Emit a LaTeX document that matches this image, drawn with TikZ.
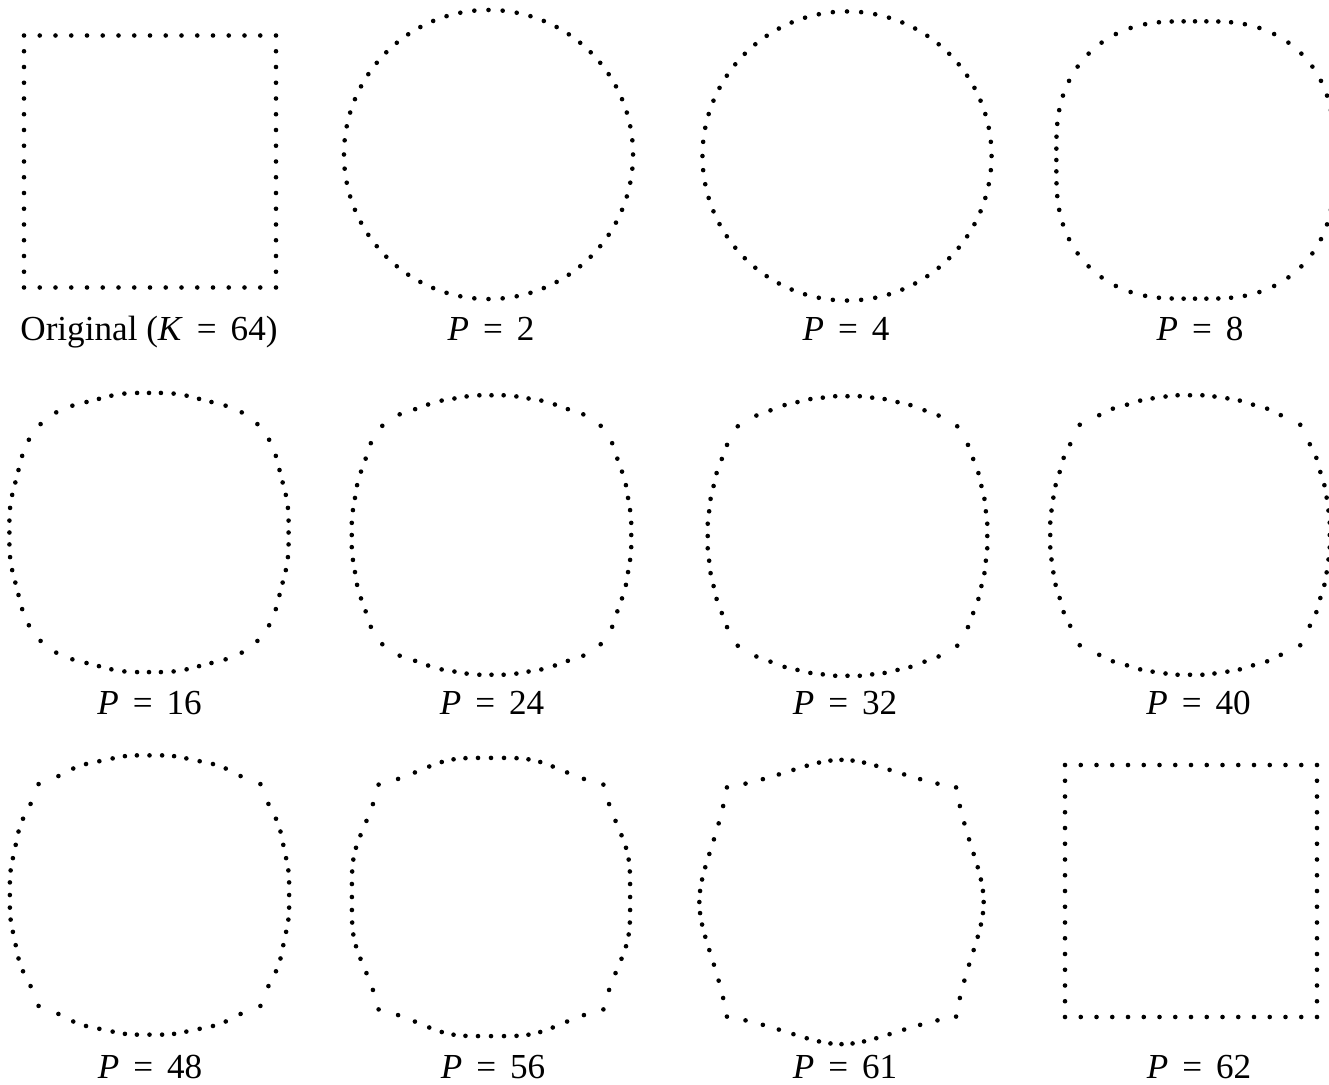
\documentclass[tikz,border=0pt]{standalone}
\usepackage{fontspec}
\setmainfont{Liberation Serif}
\tikzset{
	fddot/.style={fill=black},%
	lbl/.style={anchor=base, inner sep=0pt, font={\fontsize{20}{24}\selectfont}},%
}
\newcommand{\eqsp}{\hspace{0.28cm}}
\newcommand{\fdscale}{15.75}
\newcommand{\fdradius}{2.3}

% Fourier descriptors of the 64-point square (only u = 1 mod 4 are non-zero)
\newcommand{\fdcoeffs}{%
	\foreach \uu in {1,5,...,61}{%
		\xdef\accr{0}\xdef\acci{0}%
		\foreach \kk in {0,...,15}{%
			\pgfmathsetmacro\ang{5.625*mod(\uu*\kk,64)}%
			\pgfmathsetmacro\tmpr{\accr+(\kk-8)*cos(\ang)-8*sin(\ang)}%
			\pgfmathsetmacro\tmpi{\acci-(\kk-8)*sin(\ang)-8*cos(\ang)}%
			\xdef\accr{\tmpr}\xdef\acci{\tmpi}%
		}%
		\pgfmathsetmacro\tmpr{\accr/16}%
		\pgfmathsetmacro\tmpi{\acci/16}%
		\expandafter\xdef\csname fdr\uu\endcsname{\tmpr}%
		\expandafter\xdef\csname fdi\uu\endcsname{\tmpi}%
	}%
}

% reconstruction from the first P descriptors: centre x, centre y, P
\newcommand{\fdshape}[3]{%
	\foreach \kk in {0,...,63}{%
		\xdef\sumx{0}\xdef\sumy{0}%
		\foreach \uu in {1,5,...,61}{%
			\ifnum\uu<#3\relax
				\edef\fdre{\csname fdr\uu\endcsname}%
				\edef\fdim{\csname fdi\uu\endcsname}%
				\pgfmathsetmacro\ang{5.625*mod(\uu*\kk,64)}%
				\pgfmathsetmacro\tmpx{\sumx+(\fdre)*cos(\ang)-(\fdim)*sin(\ang)}%
				\pgfmathsetmacro\tmpy{\sumy+(\fdre)*sin(\ang)+(\fdim)*cos(\ang)}%
				\xdef\sumx{\tmpx}\xdef\sumy{\tmpy}%
			\fi
		}%
		\fill[fddot] ({#1+\fdscale*(\sumx)},{#2-\fdscale*(\sumy)}) circle[radius=\fdradius];
	}%
}

\begin{document}
\begin{tikzpicture}[x=0.02cm, y=-0.02cm]
	\useasboundingbox (0,0) rectangle (1329,1085);
	\clip (0,0) rectangle (1329,1085);
	\fdcoeffs

	% original boundary, 16 points per side
	\foreach \kk in {0,...,15}{%
		\fill[fddot] ({150+\fdscale*(\kk-8)},{161.5+\fdscale*8}) circle[radius=\fdradius];
		\fill[fddot] ({150+\fdscale*8},{161.5-\fdscale*(\kk-8)}) circle[radius=\fdradius];
		\fill[fddot] ({150-\fdscale*(\kk-8)},{161.5-\fdscale*8}) circle[radius=\fdradius];
		\fill[fddot] ({150-\fdscale*8},{161.5+\fdscale*(\kk-8)}) circle[radius=\fdradius];
	}

	\fdshape{488.5}{154.5}{2}
	\fdshape{847}{156}{4}
	\fdshape{1195}{160}{8}
	\fdshape{149}{532.5}{16}
	\fdshape{491.5}{535}{24}
	\fdshape{847.5}{536}{32}
	\fdshape{1190}{535}{40}
	\fdshape{149.5}{895}{48}
	\fdshape{491}{897}{56}
	\fdshape{841.5}{902}{61}
	\fdshape{1191}{891}{62}

	\node[lbl] (lblorig) at (149,340) {Original (\textit{K}\eqsp=\eqsp64)};
	\node[lbl] (lbl2) at (491,340) {\textit{P}\eqsp=\eqsp2};
	\node[lbl] (lbl4) at (846,340) {\textit{P}\eqsp=\eqsp4};
	\node[lbl] (lbl8) at (1200,340) {\textit{P}\eqsp=\eqsp8};
	\node[lbl] (lbl16) at (149.5,714) {\textit{P}\eqsp=\eqsp16};
	\node[lbl] (lbl24) at (492,714) {\textit{P}\eqsp=\eqsp24};
	\node[lbl] (lbl32) at (845,714) {\textit{P}\eqsp=\eqsp32};
	\node[lbl] (lbl40) at (1198.5,714) {\textit{P}\eqsp=\eqsp40};
	\node[lbl] (lbl48) at (150,1078) {\textit{P}\eqsp=\eqsp48};
	\node[lbl] (lbl56) at (493,1078) {\textit{P}\eqsp=\eqsp56};
	\node[lbl] (lbl61) at (845,1078) {\textit{P}\eqsp=\eqsp61};
	\node[lbl] (lbl62) at (1199,1078) {\textit{P}\eqsp=\eqsp62};
\end{tikzpicture}
\end{document}
